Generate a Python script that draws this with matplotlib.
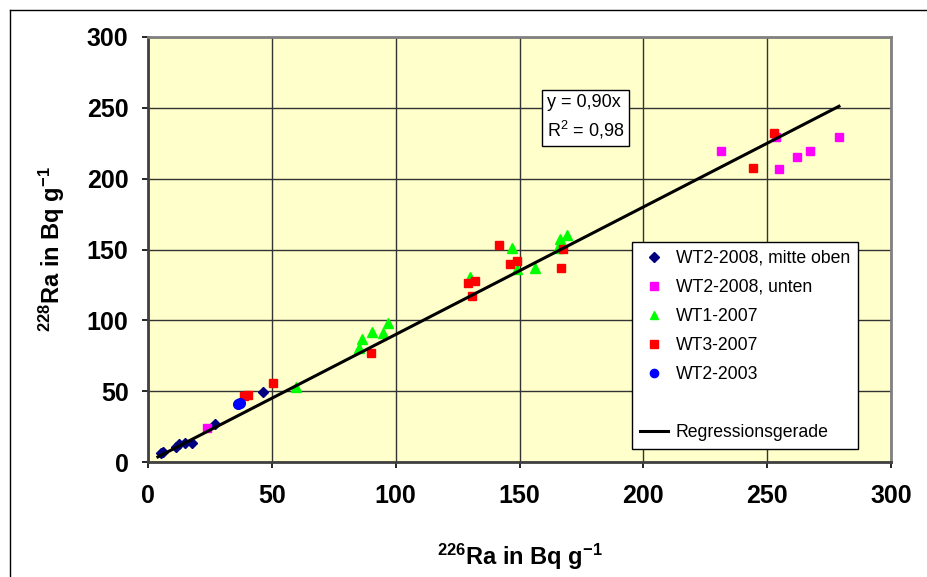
import numpy as np
import matplotlib.pyplot as plt
from matplotlib.lines import Line2D

plt.rcParams['font.family'] = ['Liberation Sans', 'DejaVu Sans']
plt.rcParams['mathtext.fontset'] = 'custom'
plt.rcParams['mathtext.rm'] = 'Liberation Sans:bold'
plt.rcParams['mathtext.bf'] = 'Liberation Sans:bold'
plt.rcParams['mathtext.sf'] = 'Liberation Sans'
plt.rcParams['mathtext.default'] = 'bf'

# WT2-2008, mitte oben
wt2_08_mo_x = [5.1, 6.2, 11.3, 12.7, 14.9, 17.6, 27.0, 46.3]
wt2_08_mo_y = [6.1, 7.3, 10.8, 12.7, 13.2, 13.6, 26.8, 49.4]
# WT2-2008, unten
wt2_08_u_x = [23.7, 231.2, 253.4, 254.6, 261.9, 267.1, 279.0]
wt2_08_u_y = [23.7, 219.7, 229.1, 206.8, 215.5, 219.5, 229.6]
# WT1-2007
wt1_07_x = [59.8, 85.3, 86.4, 90.4, 95.0, 96.8, 130.0, 147.1, 148.8, 156.2, 165.7, 166.3, 169.3]
wt1_07_y = [52.7, 80.2, 86.6, 91.7, 90.8, 97.9, 130.3, 151.2, 136.0, 136.7, 150.8, 157.2, 160.2]
# WT3-2007
wt3_07_x = [38.8, 40.2, 50.5, 90.2, 129.3, 132.0, 130.9, 141.7, 146.1, 149.1, 166.6, 167.7, 244.3, 252.8]
wt3_07_y = [46.6, 47.3, 56.0, 77.1, 126.5, 127.5, 117.4, 153.4, 139.5, 141.6, 137.1, 150.3, 207.8, 232.4]
# WT2-2003
wt2_03_x = [36.5, 37.1]
wt2_03_y = [40.7, 41.8]

slope = 0.90
line_x = [4.0, 279.0]

fig = plt.figure(figsize=(9.28, 5.77), dpi=100)
ax = fig.add_axes([148/928, 1-462/577, (891-148)/928, (462-37)/577])
ax.set_facecolor('#FFFFCC')

ax.plot(wt2_08_mo_x, wt2_08_mo_y, 'D', color='#000080', markersize=5.5, ls='none',
        label='WT2-2008, mitte oben', zorder=3)
ax.plot(wt2_08_u_x, wt2_08_u_y, 's', color='#FF00FF', markersize=6, ls='none',
        label='WT2-2008, unten', zorder=3)
ax.plot(wt1_07_x, wt1_07_y, '^', color='#00FF00', markersize=7.5, ls='none',
        label='WT1-2007', zorder=3)
ax.plot(wt3_07_x, wt3_07_y, 's', color='#FF0000', markersize=6, ls='none',
        label='WT3-2007', zorder=3)
ax.plot(wt2_03_x, wt2_03_y, 'o', color='#0000FF', markersize=7, ls='none',
        label='WT2-2003', zorder=3)
ax.plot([], [], ls='none', label=' ')
lx = np.array(line_x)
ax.plot(lx, slope * lx, color='black', lw=2.2, label='Regressionsgerade', zorder=4)

ax.set_xlim(0, 300)
ax.set_ylim(0, 300)
ax.set_xticks(np.arange(0, 301, 50))
ax.set_yticks(np.arange(0, 301, 50))
ax.grid(True, color='#333333', lw=1.0)
ax.set_axisbelow(True)
ax.tick_params(direction='out', length=4, width=1.2, labelsize=18)
ax.tick_params(axis='x', pad=12)
ax.tick_params(axis='y', pad=10)
for lab in ax.get_xticklabels() + ax.get_yticklabels():
    lab.set_fontweight('bold')
for s in ['top', 'right']:
    ax.spines[s].set_color('#808080')
    ax.spines[s].set_linewidth(2)
for s in ['left', 'bottom']:
    ax.spines[s].set_color('#404040')
    ax.spines[s].set_linewidth(2)

ax.set_xlabel(r'$^{226}$Ra in Bq g$^{-1}$', fontsize=17, fontweight='bold', labelpad=24)
ax.set_ylabel(r'$^{228}$Ra in Bq g$^{-1}$', fontsize=17, fontweight='bold', labelpad=14)

ax.text(0.537, 0.81, 'y = 0,90x\nR$^{\\mathsf{2}}$ = 0,98', transform=ax.transAxes,
        fontsize=13, fontweight='normal', linespacing=1.45, va='center', ha='left',
        bbox=dict(boxstyle='square,pad=0.25', fc='white', ec='black', lw=1), zorder=5)

leg = ax.legend(loc='upper left', bbox_to_anchor=(0.651, 0.518), fontsize=12.7,
                frameon=True, fancybox=False, edgecolor='black', framealpha=1,
                borderaxespad=0, borderpad=0.45, labelspacing=0.68, handlelength=1.6,
                handletextpad=0.45, markerscale=0.85)
leg.get_frame().set_linewidth(1.0)

# outer chart frame (left and top edges visible)
fig.add_artist(Line2D([10/928, 10/928], [0, 1-10/577], color='black', lw=1))
fig.add_artist(Line2D([10/928, 1], [1-10/577, 1-10/577], color='black', lw=1))

fig.savefig('out.png', dpi=100)
